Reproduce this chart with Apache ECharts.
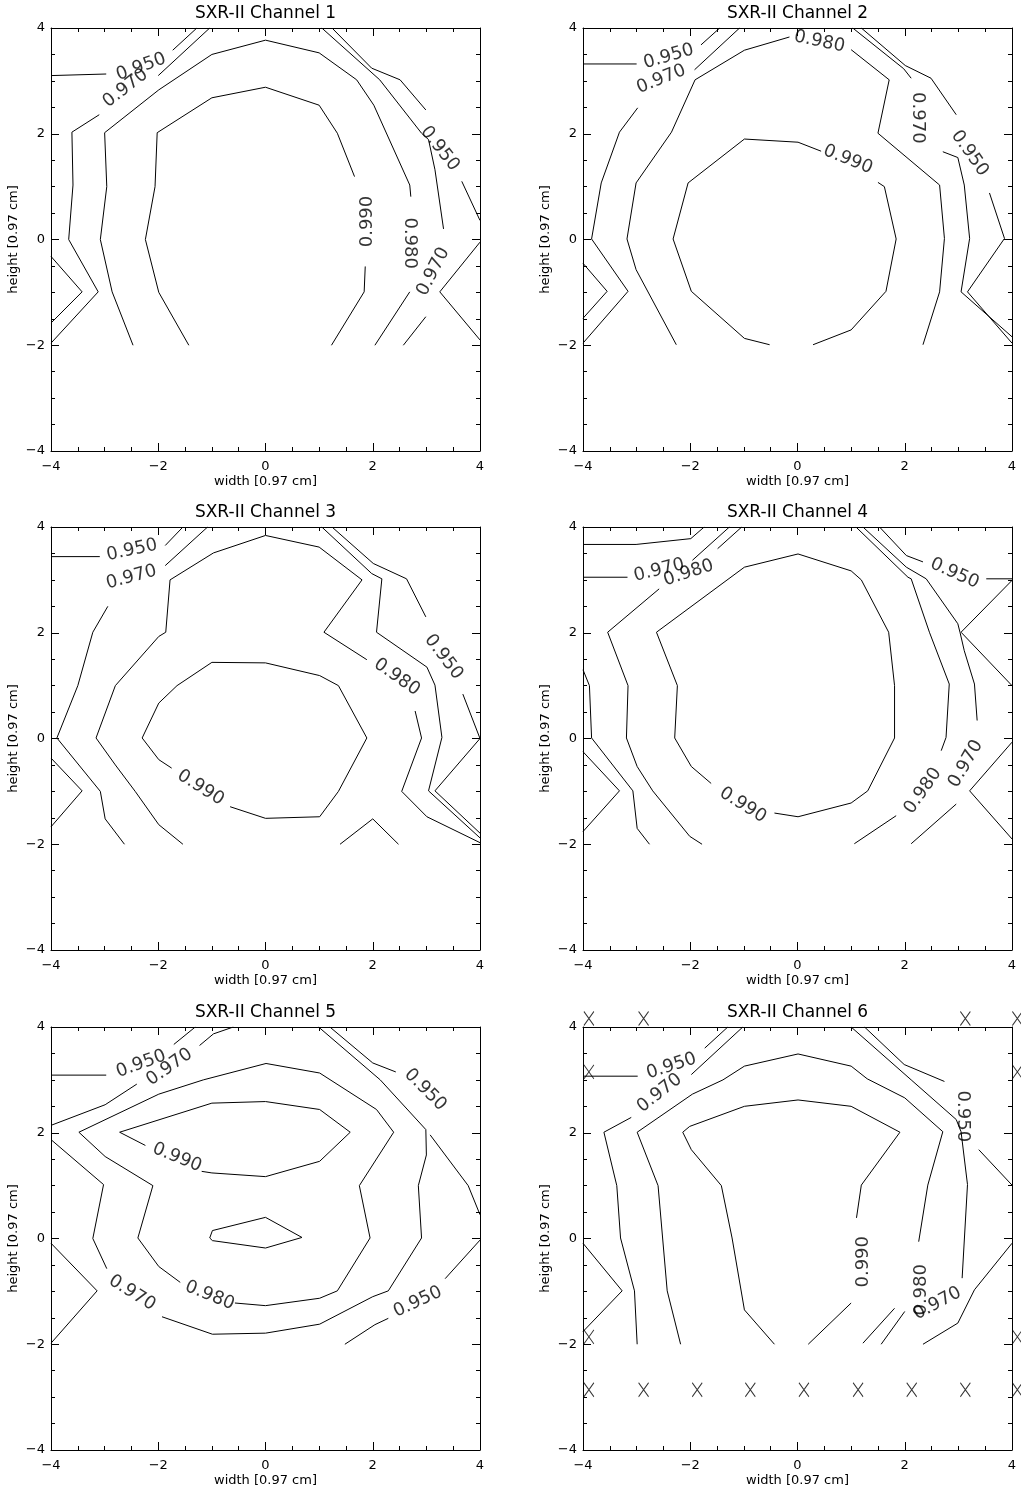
<!DOCTYPE html>
<html>
<head>
<meta charset="utf-8">
<title>SXR-II channel uniformity contours</title>
<script src="https://cdn.jsdelivr.net/npm/echarts@6/dist/echarts.min.js"></script>
<style>
  html, body { margin: 0; padding: 0; background: #fff; }
  #chart { width: 1021px; height: 1494px; }
</style>
</head>
<body>
<div id="chart"></div>
<script>
// Panel titles and axis names
const channelTitles = ['SXR-II Channel 1', 'SXR-II Channel 2', 'SXR-II Channel 3',
                       'SXR-II Channel 4', 'SXR-II Channel 5', 'SXR-II Channel 6'];
const xAxisName = 'width [0.97 cm]';
const yAxisName = 'height [0.97 cm]';
const axisMin = -4;
const axisMax = 4;
const tickStep = 2;

// Contour polylines, [x, y] in units of 0.97 cm (gaps are left where labels sit)
const ch1Lines = [
  [[-4, 3.10], [-2.97, 3.13]],
  [[-1.73, 3.58], [-1.28, 4]],
  [[1.24, 4], [1.98, 3.24], [2.51, 3.02], [2.99, 2.45]],
  [[3.66, 1.10], [4, 0.36]],
  [[4, -0.05], [3.25, -0.99], [4, -1.90]],
  [[-4, -0.32], [-3.42, -0.99], [-4, -1.58]],
  [[-1.04, 4], [-2.0, 3.10]],
  [[-3.10, 2.36], [-3.61, 2.03], [-3.59, 1.03], [-3.67, 0.0], [-3.12, -0.99], [-4, -1.96]],
  [[1.05, 4], [2.13, 3.02], [2.91, 2.01], [3.04, 1.89], [3.16, 1.32], [3.32, 0.2]],
  [[2.99, -1.46], [2.57, -2.0]],
  [[-2.47, -2], [-2.86, -0.99], [-3.08, 0.0], [-2.96, 1.0], [-3.0, 2.02], [-1.99, 2.83], [-1.0, 3.50],
   [0, 3.77], [1.0, 3.53], [1.70, 3.02], [2.02, 2.54], [2.69, 1.03], [2.71, 0.81]],
  [[2.69, -0.99], [2.04, -2.0]],
  [[-1.43, -2], [-1.99, -1.0], [-2.24, 0.0], [-2.06, 1.0], [-2.02, 2.02], [-1.0, 2.68], [0, 2.88],
   [1.0, 2.54], [1.34, 2.01], [1.66, 1.19]],
  [[1.86, -0.51], [1.84, -0.99], [1.23, -2.0]]
];
const ch1Labels = [
  ['0.950', -2.32, 3.26, 20], ['0.970', -2.61, 2.86, 38], ['0.950', 3.25, 1.72, -52],
  ['0.990', 1.89, 0.34, 90], ['0.980', 2.68, -0.07, -90], ['0.970', 3.13, -0.61, 63]
];

const ch2Lines = [
  [[-4, 3.32], [-3.0, 3.32]],
  [[-1.80, 3.68], [-1.45, 4]],
  [[-1.92, 3.21], [-1.08, 4]],
  [[-2.98, 2.49], [-3.32, 2.03], [-3.66, 1.07], [-3.84, 0.01], [-3.16, -0.98], [-4, -1.96]],
  [[-4, -0.45], [-3.55, -0.98], [-4, -1.49]],
  [[-0.15, 3.83], [-0.99, 3.58], [-1.91, 3.02], [-2.35, 2.03], [-3.01, 1.07], [-3.18, 0.01],
   [-3.01, -0.57], [-2.26, -1.99]],
  [[1.0, 3.59], [1.71, 3.02], [1.50, 2.01], [2.65, 1.03], [2.74, 0.02], [2.65, -0.99], [2.34, -1.99]],
  [[0.29, -1.99], [1.0, -1.71], [1.65, -0.98], [1.84, 0.01], [1.62, 1.0], [1.50, 1.08]],
  [[0.44, 1.67], [0.01, 1.84], [-0.99, 1.90], [-2.04, 1.07], [-2.32, 0.01], [-1.98, -0.98],
   [-0.99, -1.87], [-0.52, -1.99]],
  [[1.03, 4], [1.98, 3.23], [2.12, 3.05]],
  [[2.71, 1.66], [2.99, 1.55], [3.11, 1.03], [3.21, 0.02], [3.05, -0.99], [4, -1.84]],
  [[1.19, 4], [2.01, 3.29], [2.49, 3.05], [2.96, 2.36]],
  [[3.58, 0.88], [3.86, 0.02], [3.17, -0.99], [4, -1.96]]
];
const ch2Labels = [
  ['0.950', -2.40, 3.46, 16], ['0.970', -2.54, 3.03, 22], ['0.980', 0.41, 3.74, -12],
  ['0.990', 0.94, 1.51, -22], ['0.970', 2.24, 2.30, -90], ['0.950', 3.21, 1.63, -55]
];

const ch3Lines = [
  [[-4, 3.44], [-3.09, 3.44]],
  [[-1.87, 3.65], [-1.54, 4]],
  [[-1.87, 3.27], [-1.08, 4]],
  [[-2.94, 2.50], [-3.22, 2.01], [-3.50, 1.0], [-3.89, 0.01], [-3.08, -1.0], [-2.99, -1.52], [-2.63, -2.0]],
  [[-4, -0.37], [-3.42, -0.99], [-4, -1.67]],
  [[-1.54, -2.0], [-1.99, -1.63], [-2.43, -1.0], [-2.80, -0.5], [-3.16, 0.01], [-2.80, 1.0],
   [-1.99, 1.93], [-1.86, 2.01], [-1.78, 3.0], [-0.97, 3.51], [0, 3.84], [1.0, 3.62], [1.80, 3.0],
   [1.09, 2.01], [1.89, 1.49]],
  [[2.79, 0.52], [2.91, 0.01], [2.54, -1.0], [3.01, -1.48], [4, -1.97]],
  [[-1.75, -0.56], [-1.99, -0.40], [-2.30, 0.01], [-1.99, 0.67], [-1.65, 1.0], [-1.0, 1.44], [0, 1.43],
   [1.01, 1.19], [1.36, 1.0], [1.89, 0.01], [1.36, -1.0], [1.01, -1.48], [0, -1.51], [-0.66, -1.29]],
  [[1.39, -2.0], [2.0, -1.52], [2.48, -2.0]],
  [[1.05, 4], [1.98, 3.12], [2.17, 3.02], [2.07, 2.01], [3.01, 1.35], [3.16, 1.01], [3.29, 0.02],
   [3.04, -0.99], [4, -1.88]],
  [[1.24, 4], [2.01, 3.31], [2.63, 3.02], [2.99, 2.30]],
  [[3.68, 0.84], [4, 0.0], [3.16, -0.99], [4, -1.79]]
];
const ch3Labels = [
  ['0.950', -2.49, 3.56, 12], ['0.970', -2.50, 3.05, 15], ['0.990', -1.21, -0.93, -32],
  ['0.980', 2.45, 1.16, -35], ['0.950', 3.32, 1.54, -53]
];

const ch4Lines = [
  [[-4, 3.67], [-3.01, 3.67], [-1.99, 3.78], [-1.74, 4]],
  [[-4, 3.05], [-3.17, 3.05]],
  [[-1.96, 3.37], [-1.27, 4]],
  [[-1.49, 3.59], [-1.04, 4]],
  [[-2.58, 2.83], [-3.54, 2.01], [-3.16, 1.0], [-3.19, 0.01], [-2.99, -0.53], [-2.70, -0.99],
   [-2.01, -1.85], [-1.78, -2.0]],
  [[-4, 1.30], [-3.88, 1.0], [-3.84, 0.01], [-3.07, -0.99], [-2.99, -1.70], [-2.76, -2.0]],
  [[-4, -0.25], [-3.32, -0.99], [-4, -1.76]],
  [[-0.43, -1.41], [0.01, -1.48], [1.0, -1.22], [1.31, -0.99], [1.81, 0.01], [1.81, 1.0], [1.70, 2.01],
   [1.19, 3.0], [1.0, 3.17], [0.01, 3.49], [-0.99, 3.24], [-2.63, 2.01], [-2.24, 1.0], [-2.29, 0.01],
   [-1.98, -0.53], [-1.61, -0.85]],
  [[1.22, 4], [2.03, 3.24], [2.40, 3.02], [2.99, 2.17], [3.03, 2.01], [3.11, 1.66], [3.30, 1.03], [3.35, 0.34]],
  [[2.96, -1.24], [2.12, -1.99]],
  [[1.09, 4], [2.06, 3.05], [2.12, 3.02], [2.46, 2.01], [2.83, 1.03], [2.77, 0.02], [2.68, -0.23]],
  [[1.84, -1.46], [1.06, -1.99]],
  [[1.53, 4], [2.03, 3.46], [2.34, 3.34]],
  [[3.52, 3.02], [4, 3.02]],
  [[4, 2.99], [3.05, 2.01], [4, 1.0]],
  [[4, -0.07], [3.21, -0.99], [4, -1.90]]
];
const ch4Labels = [
  ['0.970', -2.58, 3.18, 14], ['0.980', -2.03, 3.13, 18], ['0.990', -1.02, -1.26, -32],
  ['0.950', 2.93, 3.12, -24], ['0.980', 2.34, -0.99, 55], ['0.970', 3.14, -0.48, 60]
];

const ch5Lines = [
  [[-4, 3.09], [-2.97, 3.09]],
  [[-1.71, 3.67], [-1.31, 4]],
  [[-4, 2.14], [-2.99, 2.53], [-2.40, 2.92]],
  [[-1.23, 3.65], [-0.97, 3.87], [-0.60, 4]],
  [[1.20, 4], [2.0, 3.32], [2.43, 3.15]],
  [[3.07, 1.96], [3.78, 1.0], [4, 0.45]],
  [[0.99, 4], [2.14, 3.0], [2.99, 2.06], [3.0, 1.58], [2.85, 1.0], [2.91, 0.01], [2.29, -0.99], [2.0, -1.10],
   [1.01, -1.62], [0, -1.79], [-0.99, -1.81], [-1.93, -1.48]],
  [[-2.96, -0.57], [-3.22, 0.0], [-3.02, 1.02], [-4, 1.87]],
  [[-0.57, -1.22], [0, -1.27], [1.01, -1.13], [1.34, -0.99], [1.95, 0.01], [1.75, 1.0], [2.39, 2.01],
   [2.07, 2.44], [1.01, 3.13], [0.01, 3.31], [-1.16, 3.0], [-1.99, 2.73], [-3.48, 2.01], [-2.99, 1.55],
   [-2.10, 1.0], [-2.38, 0.01], [-1.99, -0.53], [-1.59, -0.83]],
  [[-1.19, 1.27], [-1.0, 1.24], [0, 1.17], [1.01, 1.46], [1.58, 2.01], [1.01, 2.44], [0, 2.59], [-1.0, 2.56],
   [-2.72, 2.01], [-2.24, 1.76]],
  [[-1.04, 0.01], [-0.99, 0.15], [0, 0.40], [0.68, 0.02], [0, -0.18], [-0.99, -0.04], [-1.04, 0.01]],
  [[-4, -0.09], [-3.14, -0.99], [-4, -1.98]],
  [[4, -0.03], [3.35, -0.76]],
  [[2.29, -1.51], [2.04, -1.63], [1.48, -2.0]]
];
const ch5Labels = [
  ['0.950', -2.32, 3.30, 20], ['0.970', -1.79, 3.24, 35], ['0.950', 2.98, 2.81, -45],
  ['0.990', -1.65, 1.53, -22], ['0.970', -2.49, -1.03, -32], ['0.980', -1.04, -1.08, -22],
  ['0.950', 2.84, -1.20, 25]
];

const ch6Lines = [
  [[-4, 3.07], [-2.98, 3.07]],
  [[-1.73, 3.60], [-1.30, 4]],
  [[-1.98, 3.10], [-1.02, 4]],
  [[-3.10, 2.29], [-3.61, 2.01], [-3.37, 1.0], [-3.30, 0.01], [-3.04, -0.99], [-2.99, -2.0]],
  [[-4, -0.09], [-3.27, -0.99], [-4, -1.76]],
  [[-2.18, -2.0], [-2.43, -0.99], [-2.60, 1.0], [-2.99, 2.01], [-1.96, 2.73], [-1.39, 3.0], [-0.99, 3.26],
   [0.01, 3.49], [1.0, 3.26], [1.30, 3.02], [2.0, 2.66], [2.71, 2.02], [2.43, 1.01], [2.26, -0.06]],
  [[1.81, -1.32], [1.22, -1.98]],
  [[-0.43, -2.0], [-0.99, -1.35], [-1.22, 0.01], [-1.42, 1.0], [-1.98, 1.68], [-2.14, 2.01], [-2.01, 2.12],
   [-0.99, 2.50], [0.01, 2.62], [1.0, 2.50], [1.91, 2.01], [1.19, 1.01], [1.10, 0.39]],
  [[1.0, -1.22], [0.20, -2.0]],
  [[1.0, 4], [2.12, 3.0], [2.96, 2.25], [3.05, 2.02], [3.17, 1.02], [3.07, -0.75]],
  [[2.0, -1.38], [1.56, -2.0]],
  [[1.25, 4], [1.99, 3.29], [2.74, 2.97]],
  [[3.38, 1.68], [4, 1.01]],
  [[2.34, -2.0], [2.99, -1.60], [3.30, -0.97], [4, -0.09]]
];
const ch6Labels = [
  ['0.950', -2.35, 3.26, 18], ['0.970', -2.57, 2.75, 38], ['0.950', 3.08, 2.31, -90],
  ['0.990', 1.22, -0.44, 90], ['0.980', 2.31, -0.97, 90], ['0.970', 2.61, -1.23, 28]
];

// Flagged detector grid points on channel 6
const ch6FlagX = [-3.89, -2.87, 3.13, 4.10, -3.89, 4.10, -3.89, 4.10,
                  -3.89, -2.87, -1.87, -0.88, 0.12, 1.13, 2.13, 3.13, 4.10];
const ch6FlagY = [4.16, 4.16, 4.16, 4.16, 3.15, 3.15, -1.86, -1.86,
                  -2.86, -2.86, -2.86, -2.86, -2.86, -2.86, -2.86, -2.86, -2.86];

const panelLines = [ch1Lines, ch2Lines, ch3Lines, ch4Lines, ch5Lines, ch6Lines];
const panelLabels = [ch1Labels, ch2Labels, ch3Labels, ch4Labels, ch5Labels, ch6Labels];

// Page layout: two columns, three rows of plot boxes
const colLeft = [51, 583];
const rowTop = [28, 527, 1027];
const boxW = 429;
const boxH = 423;
const FONT = 'DejaVu Sans';
const INK = '#000';

const fmtTick = v => (v < 0 ? '\u2212' + Math.abs(v) : String(v));

const grids = [], xAxes = [], yAxes = [], series = [], titles = [];

for (let p = 0; p < 6; p++) {
  const left = colLeft[p % 2];
  const top = rowTop[Math.floor(p / 2)];
  grids.push({ left: left, top: top, width: boxW, height: boxH, containLabel: false });

  titles.push({
    text: channelTitles[p], left: left + boxW / 2, top: top - 23, textAlign: 'center', padding: 0,
    textStyle: { fontFamily: FONT, fontSize: 17, fontWeight: 'normal', color: INK }
  });

  const common = {
    gridIndex: p, type: 'value', min: axisMin, max: axisMax, interval: tickStep,
    axisLine: { show: true, onZero: false, lineStyle: { color: INK, width: 1 } },
    axisTick: { show: true, inside: true, length: 8, lineStyle: { color: INK, width: 1 } },
    minorTick: { show: true, splitNumber: 4, length: 4, lineStyle: { color: INK, width: 1 } },
    splitLine: { show: false },
    minorSplitLine: { show: false }
  };
  xAxes.push(Object.assign({}, common, {
    position: 'bottom',
    axisLabel: { show: true, showMinLabel: true, showMaxLabel: true, margin: 9, formatter: fmtTick,
                 fontFamily: FONT, fontSize: 13, color: INK },
    name: xAxisName, nameLocation: 'middle', nameGap: 24,
    nameTextStyle: { fontFamily: FONT, fontSize: 13, color: INK }
  }));
  xAxes.push(Object.assign({}, common, { position: 'top', axisLabel: { show: false } }));
  yAxes.push(Object.assign({}, common, {
    position: 'left',
    axisLabel: { show: true, showMinLabel: true, showMaxLabel: true, margin: 6, formatter: fmtTick,
                 fontFamily: FONT, fontSize: 13, color: INK },
    name: yAxisName, nameLocation: 'middle', nameGap: 31,
    nameTextStyle: { fontFamily: FONT, fontSize: 13, color: INK }
  }));
  yAxes.push(Object.assign({}, common, { position: 'right', axisLabel: { show: false } }));

  // contour polylines
  panelLines[p].forEach(pts => {
    series.push({
      type: 'line', xAxisIndex: 2 * p, yAxisIndex: 2 * p, data: pts,
      symbol: 'none', silent: true, animation: false,
      lineStyle: { color: INK, width: 1 }
    });
  });

  // contour level labels, rotated along the line
  series.push({
    type: 'scatter', xAxisIndex: 2 * p, yAxisIndex: 2 * p, symbolSize: 0, silent: true, animation: false,
    clip: false,
    data: panelLabels[p].map(l => ({ name: l[0], value: [l[1], l[2]], label: { rotate: l[3] } })),
    label: { show: true, position: 'inside', formatter: '{b}', fontFamily: FONT, fontSize: 18, color: INK }
  });
}

// cross markers on channel 6
series.push({
  type: 'scatter', xAxisIndex: 10, yAxisIndex: 10, clip: false, silent: true, animation: false,
  symbol: 'path://M0,0L10,14M10,0L0,14', symbolSize: [10, 14],
  itemStyle: { color: 'transparent', borderColor: INK, borderWidth: 1 },
  data: ch6FlagX.map((x, i) => [x, ch6FlagY[i]]), z: 5
});

const chart = echarts.init(document.getElementById('chart'), null, { renderer: 'canvas' });
chart.setOption({
  backgroundColor: '#fff',
  animation: false,
  textStyle: { fontFamily: FONT },
  title: titles,
  grid: grids,
  xAxis: xAxes,
  yAxis: yAxes,
  series: series
});
</script>
</body>
</html>
